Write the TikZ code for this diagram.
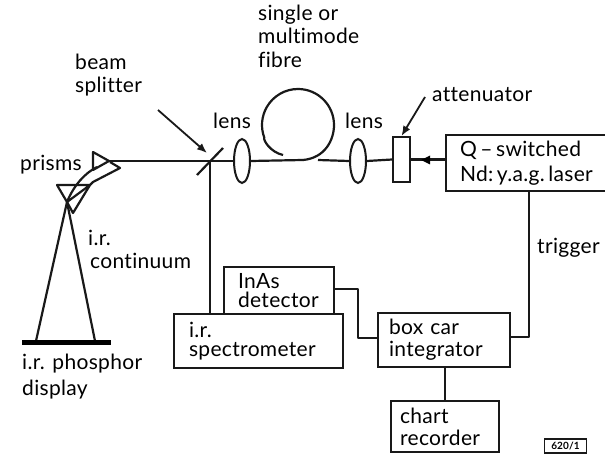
\documentclass[tikz,border=0pt]{standalone}
\usepackage{fontspec}
\setmainfont[Ligatures=NoCommon,LetterSpace=1.5]{Lato}
\usetikzlibrary{arrows.meta,shapes.geometric}
\tikzset{
 x=1pt,y=-1pt,
 ln/.style={draw=black!90,line width=2.2pt,line join=round},
 box/.style={draw=black!90,line width=2.2pt,fill=white,anchor=north west,align=left,inner sep=0pt,font=\fontsize{21}{22}\selectfont},
 lbl/.style={anchor=base west,inner sep=0pt,font=\fontsize{21}{23}\selectfont,align=left},
 lensshape/.style={draw=black!90,line width=2pt,fill=white,ellipse,minimum width=16pt,minimum height=44pt,inner sep=0pt},
 leader/.style={draw=black!90,line width=1.8pt,-{Latex[length=10pt,width=8pt]}},
}
\begin{document}
\begin{tikzpicture}
\useasboundingbox (0,0) rectangle (605,457);
% coordinates
\coordinate (bsc) at (210,161);
\coordinate (bs1) at (197,175);
\coordinate (bs2) at (223,148);
\coordinate (p1a) at (93,152);
\coordinate (p1b) at (109,161);
\coordinate (p1c) at (93,170);
\coordinate (p2a) at (57,185);
\coordinate (p2b) at (90,185);
\coordinate (p2c) at (67,202);
\coordinate (bandA) at (120,168);
\coordinate (bandB) at (73,213);
\coordinate (bandC) at (93,182);
\coordinate (bandD) at (110,162);
\coordinate (coneL) at (36,341);
\coordinate (coneR) at (95,341);
\coordinate (barL) at (22,342);
\coordinate (barR) at (111,342);
\coordinate (fibA) at (303,160);
\coordinate (fibB) at (318,160);
\coordinate (fibE) at (283,155);
\coordinate (bsT) at (158,110);
\coordinate (bsH) at (207,153);
\coordinate (atT) at (425,97);
\coordinate (arrowM) at (426,160);
% lenses, attenuator
\node[lensshape] (lensA) at (242,161) {};
\node[lensshape] (lensB) at (358,161) {};
\node[draw=black!90,line width=2pt,fill=white,minimum width=17pt,minimum height=45pt,inner sep=0pt] (att) at (401.5,159.5) {};
% boxes
\node[box,minimum width=160pt,minimum height=56pt,text width=150pt] (laser) at (445,134) {\hspace*{9pt}Q\,–\,switched\\[3pt]\hspace*{9pt}Nd:\,y.a.g.\,laser};
\node[box,minimum width=110pt,minimum height=47pt,text width=100pt] (inas) at (223,266) {\hspace*{9pt}InAs\\[-3pt]\hspace*{9pt}detector};
\node[box,minimum width=169pt,minimum height=54pt,text width=159pt] (spec) at (173,313) {\hspace*{10pt}i.r.\\[-3pt]\hspace*{10pt}spectrometer};
\node[box,minimum width=132pt,minimum height=54pt,text width=122pt] (boxcar) at (377,312) {\hspace*{6pt}box car\\\hspace*{6pt}integrator};
\node[box,minimum width=108pt,minimum height=51pt,text width=98pt] (chart) at (390,400) {\hspace*{4pt}chart\\\hspace*{4pt}recorder};
\node[box,line width=1.2pt,font=\fontsize{10}{11}\selectfont\bfseries,minimum width=42pt,minimum height=14pt,align=center,anchor=center] (code) at (565.5,446) {620/1};
% beams
\draw[ln] (p1b) -- (bsc) -- (lensA.west);
\draw[ln] (lensA.east) -- (fibA);
\draw[ln] (fibA) .. controls (325,158) and (334,140) .. (334,125) arc[start angle=0,end angle=-200,radius=36] .. controls (263,140) and (270,152) .. (fibE);
\draw[ln] (fibB) -- (lensB.west);
\draw[ln] (lensB.east) -- (att.west);
\draw[ln] (bs1) -- (bs2);
\draw[ln] (bsc) -- (bsc |- spec.north);
% prisms
\draw[ln] (p1a) -- (p1b) -- (p1c) -- cycle;
\draw[ln] (p2a) -- (p2b) -- (p2c) -- cycle;
\draw[ln] (bandD) -- (bandA) -- (bandC) -- (p2b) -- (bandB) -- (p2c);
\draw[ln] (97,167) .. controls (85,173) and (74,185) .. (p2c);
\draw[ln] (p2c) -- (coneL);
\draw[ln] (p2c) -- (coneR);
\draw[draw=black,line width=5pt] (barL) -- (barR);
% connectors
\draw[ln] (laser.west |- att.east) -- (att.east);
\fill[black] (arrowM) ++(-5,0) -- ++(9,-4.5) -- ++(0,9) -- cycle;
\draw[ln] (laser.south -| 529,0) -- (529,337) -- (boxcar.east |- 0,337);
\draw[ln] (inas.east |- 0,289) -- (358,289) -- (358,338) -- (boxcar.west |- 0,338);
\draw[ln] (boxcar.south -| chart.north) -- (chart.north);
% leaders
\draw[leader] (bsT) -- (bsH);
\draw[leader] (atT) -- (att.north);
% labels
\node[lbl] (t1) at (258,21) {single or};
\node[lbl] (t2) at (258,44) {multimode};
\node[lbl] (t3) at (258,68) {fibre};
\node[lbl] (t4) at (75,70) {beam};
\node[lbl] (t5) at (75,93) {splitter};
\node[lbl] (t6) at (213,129) {lens};
\node[lbl] (t7) at (345,129) {lens};
\node[lbl] (t8) at (20,171) {prisms};
\node[lbl] (t9) at (88,246) {i.r.};
\node[lbl] (t10) at (90,268) {continuum};
\node[lbl] (t11) at (537,253) {trigger};
\node[lbl] (t12) at (432,102) {attenuator};
\node[lbl] (t13) at (22,369) {i.r. phosphor};
\node[lbl] (t14) at (22,395) {display};
\end{tikzpicture}
\end{document}
